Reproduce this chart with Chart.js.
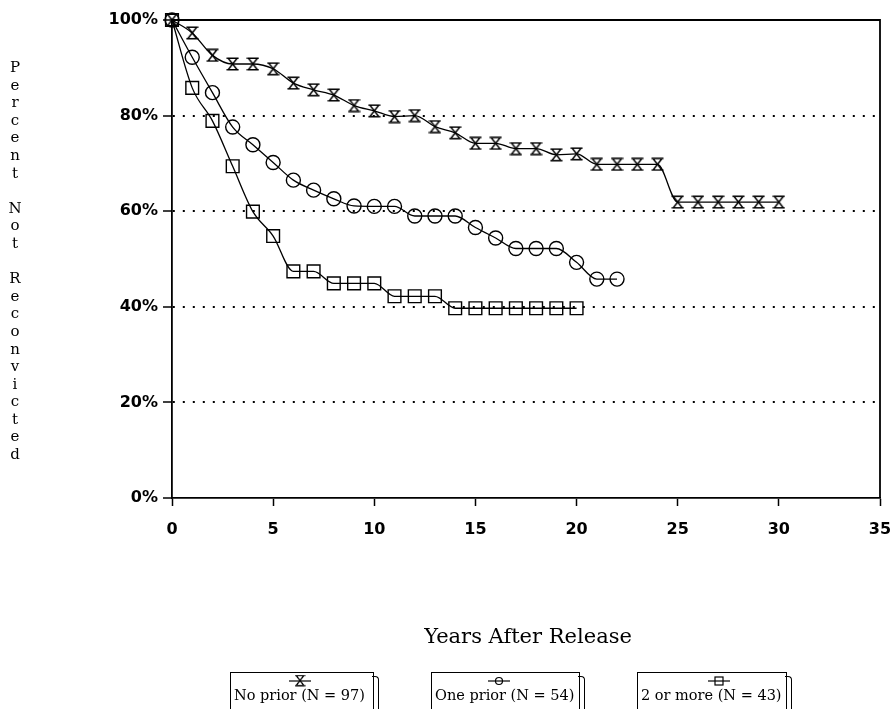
<!DOCTYPE html>
<html>
<head>
<meta charset="utf-8">
<script src="https://cdn.jsdelivr.net/npm/chart.js@4.4.0/dist/chart.umd.min.js"></script>
<style>
  body { margin: 0; background: #fff; }
  #wrap { position: relative; width: 896px; height: 709px; overflow: hidden; }
  #chart { position: absolute; left: 0; top: 0; }
  #ylab { position: absolute; left: 4px; top: 59px; width: 22px; text-align: center;
          font: 15px "DejaVu Serif", serif; line-height: 17.6px; white-space: pre; color: #000; }
  #xlab { position: absolute; left: 0; width: 1056px; top: 624px; text-align: center;
          font: 21px "DejaVu Serif", serif; color: #000; }
  .lg { position: absolute; top: 672px; height: 40px; border: 1.5px solid #000; background: #fff; }
  .lg .shadow { position: absolute; right: -6px; top: 3px; bottom: -8px; width: 6px;
                border-right: 1.5px solid #000; border-top: 1.5px solid #000; border-top-right-radius: 4px; }
  .lg canvas { position: absolute; top: 1px; }
  .lg span { position: absolute; left: 3px; top: 14px; font: 14.5px "DejaVu Serif", serif; white-space: pre; color: #000; }
</style>
</head>
<body>
<div id="wrap">
  <canvas id="chart" width="896" height="709"></canvas>
  <div id="ylab"></div>
  <div id="xlab">Years After Release</div>
  <div class="lg" style="left:230px;width:142px"><div class="shadow"></div><canvas id="m0" width="30" height="14"></canvas><span>No prior (N = 97)</span></div>
  <div class="lg" style="left:431px;width:147px"><div class="shadow"></div><canvas id="m1" width="30" height="14"></canvas><span>One prior (N = 54)</span></div>
  <div class="lg" style="left:637px;width:148px"><div class="shadow"></div><canvas id="m2" width="30" height="14"></canvas><span>2 or more (N = 43)</span></div>
</div>
<script>
// years after release
var yearsNoPrior = [0,1,2,3,4,5,6,7,8,9,10,11,12,13,14,15,16,17,18,19,20,21,22,23,24,25,26,27,28,29,30];
var yearsOnePrior = [0,1,2,3,4,5,6,7,8,9,10,11,12,13,14,15,16,17,18,19,20,21,22];
var yearsTwoPlus = [0,1,2,3,4,5,6,7,8,9,10,11,12,13,14,15,16,17,18,19,20];

// percent not reconvicted
var noPrior = [100,97.3,92.6,90.8,90.8,89.8,86.8,85.4,84.3,82.1,81,79.8,80,77.7,76.4,74.2,74.2,73.1,73.1,71.8,72,69.8,69.8,69.8,69.8,61.9,61.9,61.9,61.9,61.9,61.9];
var onePrior = [100,92.2,84.8,77.6,73.9,70.2,66.5,64.4,62.6,61.1,61,61,59,59,59,56.6,54.4,52.2,52.2,52.2,49.3,45.8,45.8];
var twoPlus = [100,85.8,78.9,69.4,59.9,54.8,47.4,47.4,44.9,44.9,44.9,42.2,42.2,42.2,39.7,39.7,39.7,39.7,39.7,39.7,39.7];

var seriesNames = ["No prior (N = 97)", "One prior (N = 54)", "2 or more (N = 43)"];
var xTicks = [0,5,10,15,20,25,30,35];
var yTicks = [0,20,40,60,80,100];

function pts(xs, ys) {
    return xs.map(function (x, i) { return { x: x, y: ys[i] }; });
}

function hourglass() {
    var c = document.createElement('canvas');
    c.width = 13; c.height = 14;
    var g = c.getContext('2d');
    g.strokeStyle = '#000';
    g.lineWidth = 1.4;
    g.beginPath();
    g.moveTo(0.5, 1.2); g.lineTo(12.5, 1.2);
    g.moveTo(2, 1.2); g.lineTo(6.5, 7); g.lineTo(11, 1.2);
    g.moveTo(0.5, 12.8); g.lineTo(12.5, 12.8);
    g.moveTo(2, 12.8); g.lineTo(6.5, 7); g.lineTo(11, 12.8);
    g.stroke();
    return c;
}
var hg = hourglass();

document.getElementById('ylab').textContent = 'Percent Not Reconvicted'.split('').join('\n');

// little samples in the legend boxes
function sample(id, kind, left) {
    var cv = document.getElementById(id);
    cv.style.left = left + 'px';
    var g = cv.getContext('2d');
    g.strokeStyle = '#000';
    g.lineWidth = 1.2;
    g.beginPath(); g.moveTo(4, 7); g.lineTo(26, 7); g.stroke();
    if (kind === 'h') {
        g.drawImage(hg, 0, 0, 13, 14, 9.5, 0.5, 11, 12);
    } else if (kind === 'c') {
        g.beginPath(); g.arc(15, 7, 3.5, 0, Math.PI * 2); g.stroke();
    } else {
        g.strokeRect(11, 3, 8, 8);
    }
}
sample('m0', 'h', 54);
sample('m1', 'c', 52);
sample('m2', 'r', 66);

var framePlugin = {
    id: 'frame',
    afterDraw: function (chart) {
        var a = chart.chartArea, ctx = chart.ctx;
        ctx.save();
        ctx.strokeStyle = '#000';
        ctx.lineWidth = 1.8;
        ctx.beginPath();
        ctx.moveTo(a.left, a.top); ctx.lineTo(a.right, a.top); ctx.lineTo(a.right, a.bottom);
        ctx.stroke();
        ctx.restore();
    }
};

var lineStyle = {
    borderColor: '#000',
    borderWidth: 1.3,
    backgroundColor: 'rgba(0,0,0,0)',
    pointBorderColor: '#000',
    pointBackgroundColor: 'rgba(0,0,0,0)',
    pointBorderWidth: 1.4,
    cubicInterpolationMode: 'monotone',
    fill: false,
    clip: false
};

var tickFont = { family: 'DejaVu Sans', size: 16, weight: 'bold' };

var ctx = document.getElementById('chart');

new Chart(ctx, {
    type: 'line',
    data: {
        datasets: [
            Object.assign({ label: seriesNames[0], data: pts(yearsNoPrior, noPrior), pointStyle: hg, pointRadius: 7 }, lineStyle),
            Object.assign({ label: seriesNames[1], data: pts(yearsOnePrior, onePrior), pointStyle: 'circle', pointRadius: 7 }, lineStyle),
            Object.assign({ label: seriesNames[2], data: pts(yearsTwoPlus, twoPlus), pointStyle: 'rect', pointRadius: 9 }, lineStyle)
        ]
    },
    options: {
        responsive: false,
        animation: false,
        layout: { padding: { left: 0, top: 20, right: 0, bottom: 161 } },
        plugins: { legend: { display: false }, tooltip: { enabled: false } },
        scales: {
            x: {
                type: 'linear',
                min: 0, max: 35,
                afterBuildTicks: function (s) { s.ticks = xTicks.map(function (v) { return { value: v }; }); },
                afterFit: function (s) { s.height = 50; s.paddingRight = 16; },
                ticks: { color: '#000', padding: 14, maxRotation: 0, font: tickFont },
                grid: { drawOnChartArea: false, tickLength: 8, color: '#000', tickWidth: 1.5 },
                border: { color: '#000', width: 1.8 }
            },
            y: {
                min: 0, max: 100,
                afterBuildTicks: function (s) { s.ticks = yTicks.map(function (v) { return { value: v }; }); },
                afterFit: function (s) { s.width = 172; },
                ticks: {
                    color: '#000', padding: 5,
                    font: tickFont,
                    callback: function (v) { return v + '%'; }
                },
                grid: {
                    tickLength: 9,
                    lineWidth: 2,
                    tickWidth: 1.5,
                    tickColor: '#000',
                    color: function (c) { return (c.tick && (c.tick.value === 0 || c.tick.value === 100)) ? 'rgba(0,0,0,0)' : '#000'; }
                },
                border: { color: '#000', width: 1.8, dash: [2, 8] }
            }
        }
    },
    plugins: [framePlugin]
});
</script>
</body>
</html>
